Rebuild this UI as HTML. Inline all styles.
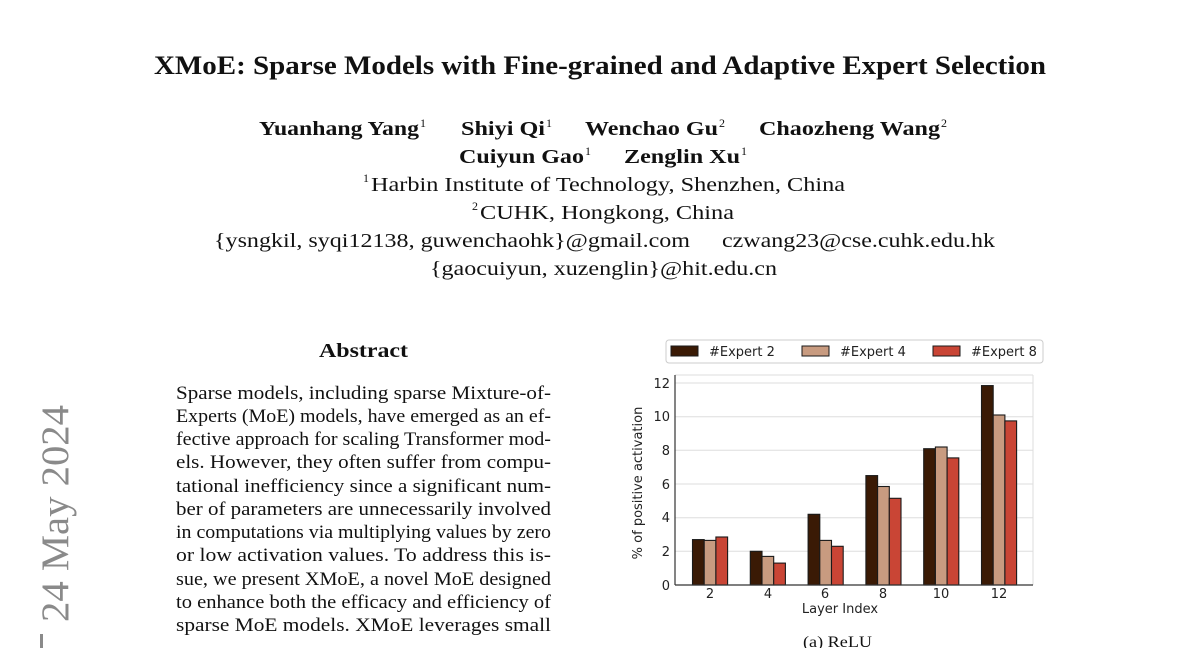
<!DOCTYPE html>
<html><head><meta charset="utf-8"><style>
html,body{margin:0;padding:0;background:#fff;}
svg{display:block;}
.s{font-family:"Liberation Serif",serif;fill:#111;}
.a{font-family:"DejaVu Sans","Liberation Sans",sans-serif;fill:#222;font-size:13px;}
</style></head><body>
<svg width="1200" height="648" viewBox="0 0 1200 648" xmlns="http://www.w3.org/2000/svg">
<rect width="1200" height="648" fill="#fff"/>
<g class="s">
<text x="154" y="74" font-size="26" font-weight="bold" textLength="892" lengthAdjust="spacingAndGlyphs">XMoE: Sparse Models with Fine-grained and Adaptive Expert Selection</text>
<g font-size="20" font-weight="bold">
<text x="259" y="135" textLength="160" lengthAdjust="spacingAndGlyphs">Yuanhang Yang</text>
<text x="420" y="127" font-size="12" font-weight="normal">1</text>
<text x="461" y="135" textLength="84" lengthAdjust="spacingAndGlyphs">Shiyi Qi</text>
<text x="546" y="127" font-size="12" font-weight="normal">1</text>
<text x="585" y="135" textLength="133" lengthAdjust="spacingAndGlyphs">Wenchao Gu</text>
<text x="719" y="127" font-size="12" font-weight="normal">2</text>
<text x="759" y="135" textLength="181" lengthAdjust="spacingAndGlyphs">Chaozheng Wang</text>
<text x="941" y="127" font-size="12" font-weight="normal">2</text>
<text x="459" y="163" textLength="125" lengthAdjust="spacingAndGlyphs">Cuiyun Gao</text>
<text x="585" y="155" font-size="12" font-weight="normal">1</text>
<text x="624" y="163" textLength="116" lengthAdjust="spacingAndGlyphs">Zenglin Xu</text>
<text x="741" y="155" font-size="12" font-weight="normal">1</text>
</g>
<g font-size="20">
<text x="363" y="182" font-size="12">1</text>
<text x="371" y="191" textLength="474" lengthAdjust="spacingAndGlyphs">Harbin Institute of Technology, Shenzhen, China</text>
<text x="472" y="210" font-size="12">2</text>
<text x="480" y="219" textLength="254" lengthAdjust="spacingAndGlyphs">CUHK, Hongkong, China</text>
<text x="214" y="247" textLength="476" lengthAdjust="spacingAndGlyphs">{ysngkil, syqi12138, guwenchaohk}@gmail.com</text>
<text x="722" y="247" textLength="273" lengthAdjust="spacingAndGlyphs">czwang23@cse.cuhk.edu.hk</text>
<text x="430" y="275" textLength="347" lengthAdjust="spacingAndGlyphs">{gaocuiyun, xuzenglin}@hit.edu.cn</text>
</g>
<text x="319" y="357" font-size="20" font-weight="bold" textLength="89" lengthAdjust="spacingAndGlyphs">Abstract</text>
<g font-size="18.5">
<text x="176" y="399" textLength="375" lengthAdjust="spacingAndGlyphs">Sparse models, including sparse Mixture-of-</text>
<text x="176" y="422" textLength="375" lengthAdjust="spacingAndGlyphs">Experts (MoE) models, have emerged as an ef-</text>
<text x="176" y="445" textLength="375" lengthAdjust="spacingAndGlyphs">fective approach for scaling Transformer mod-</text>
<text x="176" y="468" textLength="375" lengthAdjust="spacingAndGlyphs">els.  However, they often suffer from compu-</text>
<text x="176" y="492" textLength="375" lengthAdjust="spacingAndGlyphs">tational inefficiency since a significant num-</text>
<text x="176" y="515" textLength="375" lengthAdjust="spacingAndGlyphs">ber of parameters are unnecessarily involved</text>
<text x="176" y="538" textLength="375" lengthAdjust="spacingAndGlyphs">in computations via multiplying values by zero</text>
<text x="176" y="561" textLength="375" lengthAdjust="spacingAndGlyphs">or low activation values.  To address this is-</text>
<text x="176" y="585" textLength="375" lengthAdjust="spacingAndGlyphs">sue, we present XMoE, a novel MoE designed</text>
<text x="176" y="608" textLength="375" lengthAdjust="spacingAndGlyphs">to enhance both the efficacy and efficiency of</text>
<text x="176" y="631" textLength="375" lengthAdjust="spacingAndGlyphs">sparse MoE models.  XMoE leverages small</text>
</g>
<text x="803" y="647" font-size="16" textLength="69" lengthAdjust="spacingAndGlyphs">(a) ReLU</text>
</g>
<text transform="translate(68,622) rotate(-90)" font-family="Liberation Serif,serif" font-size="39" fill="#8a8a8a" textLength="217" lengthAdjust="spacingAndGlyphs">24 May 2024</text>
<rect x="40" y="634" width="3" height="14" fill="#8a8a8a"/>

<g stroke="#ddd" stroke-width="1">
<line x1="675" x2="1033" y1="551.3" y2="551.3"/>
<line x1="675" x2="1033" y1="517.7" y2="517.7"/>
<line x1="675" x2="1033" y1="484" y2="484"/>
<line x1="675" x2="1033" y1="450.3" y2="450.3"/>
<line x1="675" x2="1033" y1="416.7" y2="416.7"/>
<line x1="675" x2="1033" y1="383" y2="383"/>
<line x1="1033" x2="1033" y1="375" y2="585"/>
<line x1="675" x2="1033" y1="375" y2="375"/>
</g>
<g stroke="#1a1a1a" stroke-width="1.1">
<rect x="692.5" y="539.6" width="11.7" height="45.4" fill="#3a1a05"/>
<rect x="704.2" y="540.4" width="11.7" height="44.6" fill="#c89b80"/>
<rect x="715.9" y="537.0" width="11.7" height="48" fill="#c94535"/>
<rect x="750.3" y="551.3" width="11.7" height="33.7" fill="#3a1a05"/>
<rect x="762.0" y="556.4" width="11.7" height="28.6" fill="#c89b80"/>
<rect x="773.7" y="563.1" width="11.7" height="21.9" fill="#c94535"/>
<rect x="808.1" y="514.3" width="11.7" height="70.7" fill="#3a1a05"/>
<rect x="819.8" y="540.4" width="11.7" height="44.6" fill="#c89b80"/>
<rect x="831.5" y="546.3" width="11.7" height="38.7" fill="#c94535"/>
<rect x="865.9" y="475.6" width="11.7" height="109.4" fill="#3a1a05"/>
<rect x="877.6" y="486.5" width="11.7" height="98.5" fill="#c89b80"/>
<rect x="889.3" y="498.3" width="11.7" height="86.7" fill="#c94535"/>
<rect x="923.7" y="448.7" width="11.7" height="136.3" fill="#3a1a05"/>
<rect x="935.4" y="447.0" width="11.7" height="138" fill="#c89b80"/>
<rect x="947.1" y="457.9" width="11.7" height="127.1" fill="#c94535"/>
<rect x="981.5" y="385.6" width="11.7" height="199.4" fill="#3a1a05"/>
<rect x="993.2" y="415.0" width="11.7" height="170" fill="#c89b80"/>
<rect x="1004.9" y="420.9" width="11.7" height="164.1" fill="#c94535"/>
</g>
<g stroke="#333" stroke-width="1.2">
<line x1="675" x2="675" y1="375" y2="585"/>
<line x1="675" x2="1033" y1="585" y2="585"/>
</g>
<g class="a" text-anchor="end">
<text x="670" y="590">0</text><text x="670" y="556">2</text><text x="670" y="522">4</text>
<text x="670" y="489">6</text><text x="670" y="455">8</text><text x="670" y="421">10</text><text x="670" y="388">12</text>
</g>
<g class="a" text-anchor="middle">
<text x="710" y="598">2</text><text x="768" y="598">4</text><text x="825" y="598">6</text>
<text x="883" y="598">8</text><text x="941" y="598">10</text><text x="999" y="598">12</text>
<text x="840" y="613">Layer Index</text>
<text transform="translate(642,483) rotate(-90)">% of positive activation</text>
</g>
<rect x="666" y="340" width="377" height="23" rx="3" fill="#fff" stroke="#ccc"/>
<g stroke="#1a1a1a" stroke-width="1">
<rect x="671" y="346" width="27" height="10" fill="#3a1a05"/>
<rect x="802" y="346" width="27" height="10" fill="#c89b80"/>
<rect x="933" y="346" width="27" height="10" fill="#c94535"/>
</g>
<g class="a" font-size="12.5">
<text x="709" y="356">#Expert 2</text>
<text x="840" y="356">#Expert 4</text>
<text x="971" y="356">#Expert 8</text>
</g>
</svg>
</body></html>
